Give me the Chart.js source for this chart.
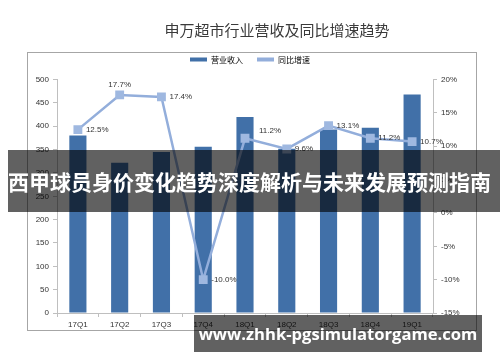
<!DOCTYPE html>
<html>
<head>
<meta charset="utf-8">
<script src="https://cdn.jsdelivr.net/npm/chart.js@4/dist/chart.umd.min.js"></script>
<style>
  html, body { margin: 0; padding: 0; background: #fff; }
  #wrap { position: relative; width: 500px; height: 362px; overflow: hidden; }
  #title { position: absolute; left: 77px; top: 19px; width: 400px; text-align: center;
    font: 15px "Noto Sans CJK SC", sans-serif; color: #3a3a3a; line-height: 22px; }
  #box { position: absolute; left: 27px; top: 52px; width: 450px; height: 279px; border: 1px solid #a6a6a6; box-sizing: border-box; }
  #banner { position: absolute; left: 8px; top: 150px; width: 492px; height: 62px; background: rgba(0,0,0,0.62);
    color: #fff; font: bold 21px "Noto Sans CJK SC", sans-serif; line-height: 62px; white-space: nowrap; }
  #site { position: absolute; left: 194px; top: 315px; width: 288px; height: 37px; background: rgba(0,0,0,0.62);
    color: #fff; font: bold 16.6px "Open Sans", sans-serif; line-height: 37px; text-align: center; white-space: nowrap; }
</style>
</head>
<body>
<div id="wrap">
  <div id="title">申万超市行业营收及同比增速趋势</div>
  <div id="box"></div>
  <canvas id="chart" width="500" height="362"></canvas>
  <div id="banner">西甲球员身价变化趋势深度解析与未来发展预测指南</div>
  <div id="site">www.zhhk-pgsimulatorgame.com</div>
</div>
<script>
// quarters on the x axis
const quarters = ['17Q1', '17Q2', '17Q3', '17Q4', '18Q1', '18Q2', '18Q3', '18Q4', '19Q1']
// revenue (left axis)
const revenue = [380, 322, 345, 356, 420, 352, 393, 397, 468]
// growth rate in % (right axis)
const growth = [12.5, 17.7, 17.4, -10.0, 11.2, 9.6, 13.1, 11.2, 10.7]

const tickFont = { family: 'Liberation Sans, Arial, sans-serif', size: 8 }

// percent labels next to the line points
const pointLabels = {
    id: 'pointLabels',
    afterDatasetsDraw(chart) {
        const ctx = chart.ctx
        const meta = chart.getDatasetMeta(1)
        ctx.save()
        ctx.font = '8px "Liberation Sans", Arial, sans-serif'
        ctx.fillStyle = '#333'
        ctx.textBaseline = 'middle'
        meta.data.forEach((pt, i) => {
            const txt = growth[i].toFixed(1) + '%'
            if (i === 1) {
                ctx.textAlign = 'center'
                ctx.fillText(txt, pt.x, pt.y - 10)
            } else if (i === 4) {
                ctx.textAlign = 'left'
                ctx.fillText(txt, pt.x + 14, pt.y - 7)
            } else {
                ctx.textAlign = 'left'
                ctx.fillText(txt, pt.x + 8, pt.y)
            }
        })
        ctx.restore()
    }
}

const data = {
    labels: quarters,
    datasets: [{
        type: 'bar',
        label: '营业收入',
        data: revenue,
        backgroundColor: '#4170a8',
        borderColor: '#4170a8',
        yAxisID: 'y',
        barPercentage: 0.82,
        categoryPercentage: 0.5,
        order: 2
    }, {
        type: 'line',
        label: '同比增速',
        data: growth,
        borderColor: '#93aedb',
        backgroundColor: '#93aedb',
        borderWidth: 2.5,
        pointStyle: 'rect',
        pointRadius: 4.5,
        pointBackgroundColor: '#9fb8e0',
        pointBorderColor: '#9fb8e0',
        yAxisID: 'y1',
        order: 1
    }]
}

const config = {
    type: 'bar',
    data: data,
    options: {
        responsive: false,
        animation: false,
        layout: { padding: { left: 0, right: 0, top: 41.6, bottom: 0 } },
        plugins: {
            title: { display: false },
            // empty spacer below the legend
            subtitle: {
                display: true,
                text: ' ',
                font: { size: 1 },
                padding: { top: 0, bottom: 4.8 }
            },
            legend: {
                display: true,
                weight: 2000,
                labels: {
                    color: '#222',
                    font: { family: 'Noto Sans CJK SC', size: 8 },
                    boxWidth: 17,
                    boxHeight: 4,
                    padding: 14,
                    generateLabels(chart) {
                        return chart.data.datasets.map((ds, i) => ({
                            text: ds.label,
                            fillStyle: ds.backgroundColor,
                            strokeStyle: ds.borderColor,
                            lineWidth: 0,
                            datasetIndex: i
                        }))
                    }
                }
            },
            tooltip: { enabled: false }
        },
        scales: {
            x: {
                grid: { display: true, drawOnChartArea: false, offset: true, color: '#bfbfbf', tickLength: 4 },
                border: { color: '#bfbfbf' },
                ticks: { color: '#333', font: tickFont, padding: 3 },
                afterFit(s) { s.height = 49 }
            },
            y: {
                position: 'left',
                min: 0, max: 500,
                ticks: { stepSize: 50, color: '#333', font: tickFont, padding: 4 },
                grid: { drawOnChartArea: false, color: '#bfbfbf', tickLength: 4 },
                border: { color: '#bfbfbf' },
                afterFit(s) { s.width = 57 }
            },
            y1: {
                position: 'right',
                min: -15, max: 20,
                ticks: { stepSize: 5, color: '#333', font: tickFont, padding: 4, callback: v => v + '%' },
                grid: { drawOnChartArea: false, color: '#bfbfbf', tickLength: 4 },
                border: { color: '#bfbfbf' },
                afterFit(s) { s.width = 67 }
            }
        }
    },
    plugins: [pointLabels]
}

const myChart = new Chart(document.getElementById('chart'), config)
</script>
</body>
</html>
